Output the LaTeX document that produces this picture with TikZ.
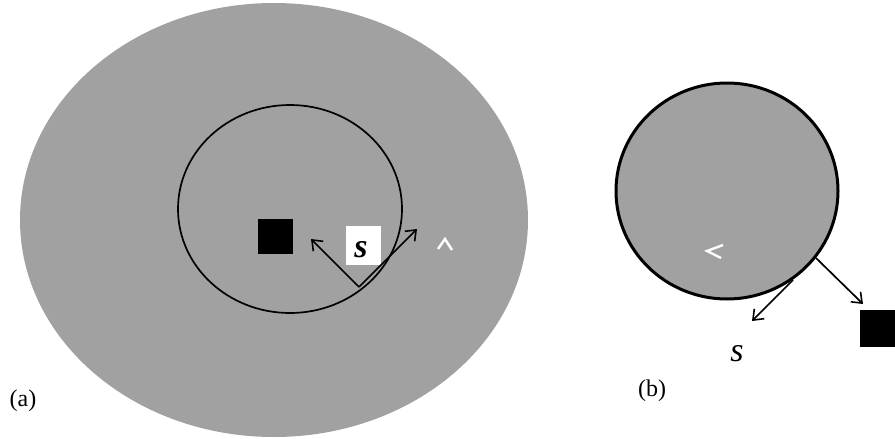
\documentclass[tikz,border=0pt]{standalone}
\usepackage{fontspec}
\setmainfont{Liberation Serif}
\usetikzlibrary{arrows.meta,shapes.geometric}
\begin{document}
\begin{tikzpicture}[x=1pt,y=-1pt,
  disk/.style={ellipse, inner sep=0pt, fill=black!37},
  blk/.style={fill=black, minimum size=35pt, inner sep=0pt},
  arr/.style={-{Straight Barb[length=9pt,width=14pt,line width=1.6pt]}, line width=1.7pt},
  whitemark/.style={draw=white, line width=2.4pt},
  lab/.style={font=\fontsize{24}{27}\selectfont},
  slab/.style={font=\fontsize{34}{37}\selectfont\itshape, inner sep=0pt}]
\useasboundingbox (0,0) rectangle (895,439);
% (a)
\node[disk, minimum width=508pt, minimum height=434pt] (big) at (274,220) {};
\node[ellipse, draw=black, line width=1.7pt, minimum width=224pt, minimum height=208pt, inner sep=0pt] (inner) at (290,209) {};
\node[blk] (sqa) at (275,236) {};
\node[fill=white, minimum width=35pt, minimum height=39pt, inner sep=0pt] (sa) at (363,245) {};
\node[slab, font=\fontsize{34}{37}\selectfont\itshape\bfseries] (sat) at (361,250) {s};
\coordinate (oa) at (359,287);
\coordinate (ta1) at (311,239);
\coordinate (ta2) at (417,229);
\draw[arr] (oa) -- (ta1);
\draw[arr] (oa) -- (ta2);
\coordinate (ca1) at (438,249); \coordinate (ca2) at (445,239); \coordinate (ca3) at (452,250);
\draw[whitemark] (ca1) -- (ca2) -- (ca3);
\node[lab] (la) at (23,401) {(a)};
% (b)
\node[disk, draw=black, line width=3pt, minimum width=222pt, minimum height=216pt] (small) at (727,191) {};
\coordinate (cb1) at (723,245); \coordinate (cb2) at (707,251); \coordinate (cb3) at (721,258);
\draw[whitemark] (cb1) -- (cb2) -- (cb3);
\coordinate (ob1) at (793,280);
\coordinate (tb1) at (752,321);
\coordinate (ob2) at (816,258);
\coordinate (tb2) at (863,304);
\draw[arr] (ob1) -- (tb1);
\draw[arr] (ob2) -- (tb2);
\node[blk, minimum width=37pt, minimum height=37pt] (sqb) at (878,328) {};
\node[slab] (sb) at (737,354) {s};
\node[lab] (lb) at (652,391) {(b)};
\end{tikzpicture}
\end{document}
